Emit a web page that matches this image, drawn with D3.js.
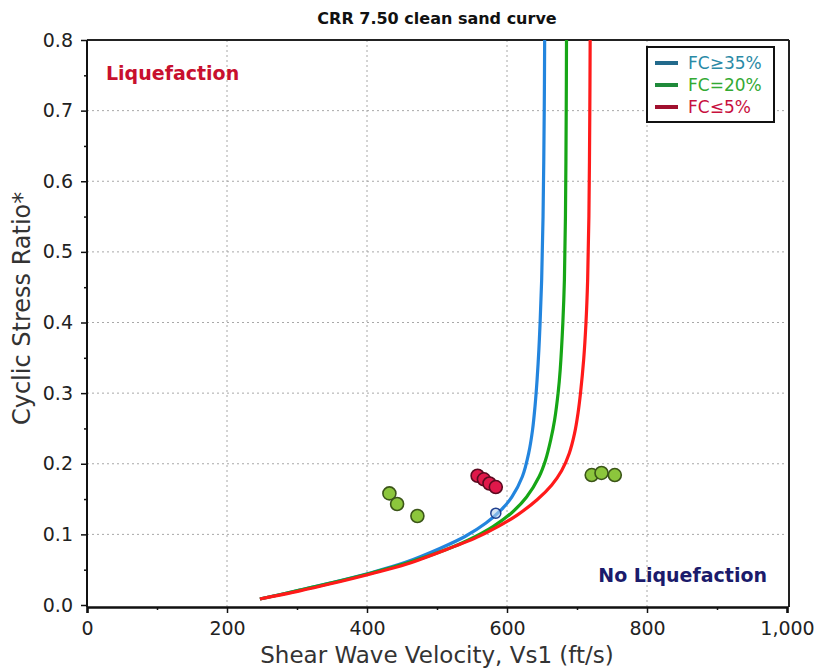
<!DOCTYPE html>
<html>
<head>
<meta charset="utf-8">
<script src="https://cdn.jsdelivr.net/npm/d3@7"></script>
<style>
  html, body { margin: 0; padding: 0; background: #ffffff; }
  svg { display: block; font-family: "DejaVu Sans", Verdana, sans-serif; }
</style>
</head>
<body>
<svg id="chart" width="818" height="669"></svg>
<script>
// ---- data ----
const chartTitle = "CRR 7.50 clean sand curve";
const xTitle = "Shear Wave Velocity, Vs1 (ft/s)";
const yTitle = "Cyclic Stress Ratio*";
const xTicks = [0, 200, 400, 600, 800, 1000];
const xMinorTicks = [100, 300, 500, 700, 900];
const yTicks = [0.0, 0.1, 0.2, 0.3, 0.4, 0.5, 0.6, 0.7, 0.8];
const yMinorTicks = [0.05, 0.15, 0.25, 0.35, 0.45, 0.55, 0.65, 0.75];

const seriesNames = ["FC\u226535%", "FC=20%", "FC\u22645%"];

// FC>=35% curve
const blueVs  = [247, 304, 347, 403, 454, 504, 540, 570, 592, 607, 622, 631, 636.5, 640, 643, 645.5, 647.3, 649.5, 651.5, 653.2, 653.8];
const blueCrr = [0.0085, 0.021, 0.031, 0.045, 0.060, 0.080, 0.097, 0.116, 0.135, 0.153, 0.182, 0.215, 0.248, 0.281, 0.319, 0.361, 0.400, 0.460, 0.550, 0.700, 0.800];
// FC=20% curve
const greenVs  = [247, 304, 348, 405, 456, 517, 545, 580, 606, 628, 646, 655, 662.5, 668, 673, 676, 679.8, 682, 683.5, 684.6, 685];
const greenCrr = [0.0085, 0.021, 0.031, 0.045, 0.059, 0.080, 0.092, 0.111, 0.130, 0.153, 0.182, 0.205, 0.234, 0.262, 0.300, 0.333, 0.400, 0.460, 0.550, 0.700, 0.800];
// FC<=5% curve
const redVs  = [247, 304, 348, 405, 457, 525, 553, 587, 614, 643, 664, 678, 689, 696.5, 701.5, 705, 709.5, 712.8, 715.2, 717, 718.3, 718.8];
const redCrr = [0.0085, 0.020, 0.030, 0.044, 0.058, 0.083, 0.094, 0.111, 0.127, 0.149, 0.170, 0.190, 0.215, 0.243, 0.272, 0.300, 0.347, 0.399, 0.460, 0.550, 0.700, 0.800];

// measured points
const greenPtVs  = [432, 443, 472, 721, 735, 754];
const greenPtCrr = [0.158, 0.143, 0.126, 0.184, 0.187, 0.184];
const redPtVs  = [558, 567, 575, 584];
const redPtCrr = [0.183, 0.178, 0.172, 0.167];
const bluePtVs  = [584];
const bluePtCrr = [0.130];

const zoneLabels = ["Liquefaction", "No Liquefaction"];

// ---- layout ----
const svg = d3.select("#chart");
const x = d3.scaleLinear().domain([0, 1000]).range([87, 787]);
const y = d3.scaleLinear().domain([0, 0.8]).range([605, 40]);
const x0 = x(0), x1 = x(1000), yTop = y(0.8), yBot = 607;

// grid
svg.append("g").selectAll("line").data(xTicks.filter(d => d > 0 && d < 1000)).join("line")
  .attr("x1", d => x(d)).attr("x2", d => x(d)).attr("y1", yTop).attr("y2", yBot)
  .attr("stroke", "#a8a8a8").attr("stroke-width", 1).attr("stroke-dasharray", "2,3");
svg.append("g").selectAll("line").data(yTicks.filter(d => d > 0 && d < 0.8)).join("line")
  .attr("x1", x0).attr("x2", x1).attr("y1", d => y(d)).attr("y2", d => y(d))
  .attr("stroke", "#a8a8a8").attr("stroke-width", 1).attr("stroke-dasharray", "2,3");

// frame top/right
svg.append("line").attr("x1", x0).attr("x2", x1 + 2).attr("y1", yTop).attr("y2", yTop)
  .attr("stroke", "#222").attr("stroke-width", 2);
svg.append("line").attr("x1", x1 + 2).attr("x2", x1 + 2).attr("y1", yTop).attr("y2", yBot)
  .attr("stroke", "#222").attr("stroke-width", 2);

// axes
const fmtX = d3.format(",");
const xAxis = d3.axisBottom(x).tickValues(xTicks).tickFormat(fmtX).tickSize(6).tickPadding(9);
const gx = svg.append("g").attr("transform", `translate(0,${yBot})`).call(xAxis);
gx.select(".domain").attr("stroke", "#111").attr("stroke-width", 2.5);
gx.selectAll(".tick line").attr("stroke", "#111").attr("stroke-width", 1.5);
gx.selectAll("text").attr("font-size", 19).attr("fill", "#222").attr("font-family", "DejaVu Sans");
const xAxisMinor = d3.axisBottom(x).tickValues(xMinorTicks).tickFormat("").tickSize(3);
const gxm = svg.append("g").attr("transform", `translate(0,${yBot})`).call(xAxisMinor);
gxm.select(".domain").remove();
gxm.selectAll(".tick line").attr("stroke", "#111").attr("stroke-width", 1.5);

const yAxis = d3.axisLeft(y).tickValues(yTicks).tickFormat(d3.format(".1f")).tickSize(6).tickPadding(8);
const gy = svg.append("g").attr("transform", `translate(${x0},0)`).call(yAxis);
gy.select(".domain").attr("stroke", "#111").attr("stroke-width", 2).attr("d", `M0,${yTop}V${yBot}`);
gy.selectAll(".tick line").attr("stroke", "#111").attr("stroke-width", 1.5);
gy.selectAll("text").attr("font-size", 19).attr("fill", "#222").attr("font-family", "DejaVu Sans");
const yAxisMinor = d3.axisLeft(y).tickValues(yMinorTicks).tickFormat("").tickSize(3);
const gym = svg.append("g").attr("transform", `translate(${x0},0)`).call(yAxisMinor);
gym.select(".domain").remove();
gym.selectAll(".tick line").attr("stroke", "#111").attr("stroke-width", 1.5);

// titles
svg.append("text").attr("x", (x0 + x1) / 2).attr("y", 24).attr("text-anchor", "middle")
  .attr("font-size", 16).attr("font-weight", "bold").attr("fill", "#111").text(chartTitle);
svg.append("text").attr("x", (x0 + x1) / 2).attr("y", 663).attr("text-anchor", "middle")
  .attr("font-size", 23).attr("fill", "#333").text(xTitle);
svg.append("text").attr("transform", `translate(30,${y(0.42)}) rotate(-90)`).attr("text-anchor", "middle")
  .attr("font-size", 24).attr("fill", "#333").text(yTitle);

// curves (red drawn last, on top)
const line = d3.line().x(d => x(d[0])).y(d => y(d[1])).curve(d3.curveCatmullRom.alpha(0.5));
const curves = [
  { vs: blueVs, crr: blueCrr, color: "#2385de" },
  { vs: greenVs, crr: greenCrr, color: "#16a616" },
  { vs: redVs, crr: redCrr, color: "#ff1a1a" }
];
curves.forEach(c => {
  svg.append("path").datum(d3.zip(c.vs, c.crr)).attr("d", line)
    .attr("fill", "none").attr("stroke", c.color).attr("stroke-width", 3.2)
    .attr("stroke-linejoin", "round");
});

// points
svg.append("g").selectAll("circle").data(d3.zip(greenPtVs, greenPtCrr)).join("circle")
  .attr("cx", d => x(d[0])).attr("cy", d => y(d[1])).attr("r", 6.5)
  .attr("fill", "#8cc63c").attr("stroke", "#3b5518").attr("stroke-width", 1.6);
svg.append("g").selectAll("circle").data(d3.zip(redPtVs, redPtCrr)).join("circle")
  .attr("cx", d => x(d[0])).attr("cy", d => y(d[1])).attr("r", 6.5)
  .attr("fill", "#e0184a").attr("stroke", "#5a0a20").attr("stroke-width", 1.6);
svg.append("g").selectAll("circle").data(d3.zip(bluePtVs, bluePtCrr)).join("circle")
  .attr("cx", d => x(d[0])).attr("cy", d => y(d[1])).attr("r", 5)
  .attr("fill", "#b9d2ec").attr("fill-opacity", 0.6).attr("stroke", "#1f3f8f").attr("stroke-width", 1.5);

// zone labels
svg.append("text").attr("x", 106).attr("y", 80).attr("font-size", 19).attr("font-weight", "bold")
  .attr("fill", "#c8102e").text(zoneLabels[0]);
svg.append("text").attr("x", 767).attr("y", 582).attr("text-anchor", "end").attr("font-size", 19)
  .attr("font-weight", "bold").attr("fill", "#1b1b6b").text(zoneLabels[1]);

// legend
const legendLineColors = ["#236a8c", "#1f8a3a", "#a0102e"];
const legendTextColors = ["#2a8aa6", "#33aa33", "#c8103e"];
const lg = svg.append("g");
lg.append("rect").attr("x", 647).attr("y", 47).attr("width", 127).attr("height", 75)
  .attr("fill", "#fff").attr("stroke", "#111").attr("stroke-width", 2);
seriesNames.forEach((n, i) => {
  const yy = 63 + i * 22;
  lg.append("line").attr("x1", 655).attr("x2", 678).attr("y1", yy).attr("y2", yy)
    .attr("stroke", legendLineColors[i]).attr("stroke-width", 4);
  lg.append("text").attr("x", 688).attr("y", yy + 6).attr("font-size", 17)
    .attr("fill", legendTextColors[i]).text(n);
});
</script>
</body>
</html>
